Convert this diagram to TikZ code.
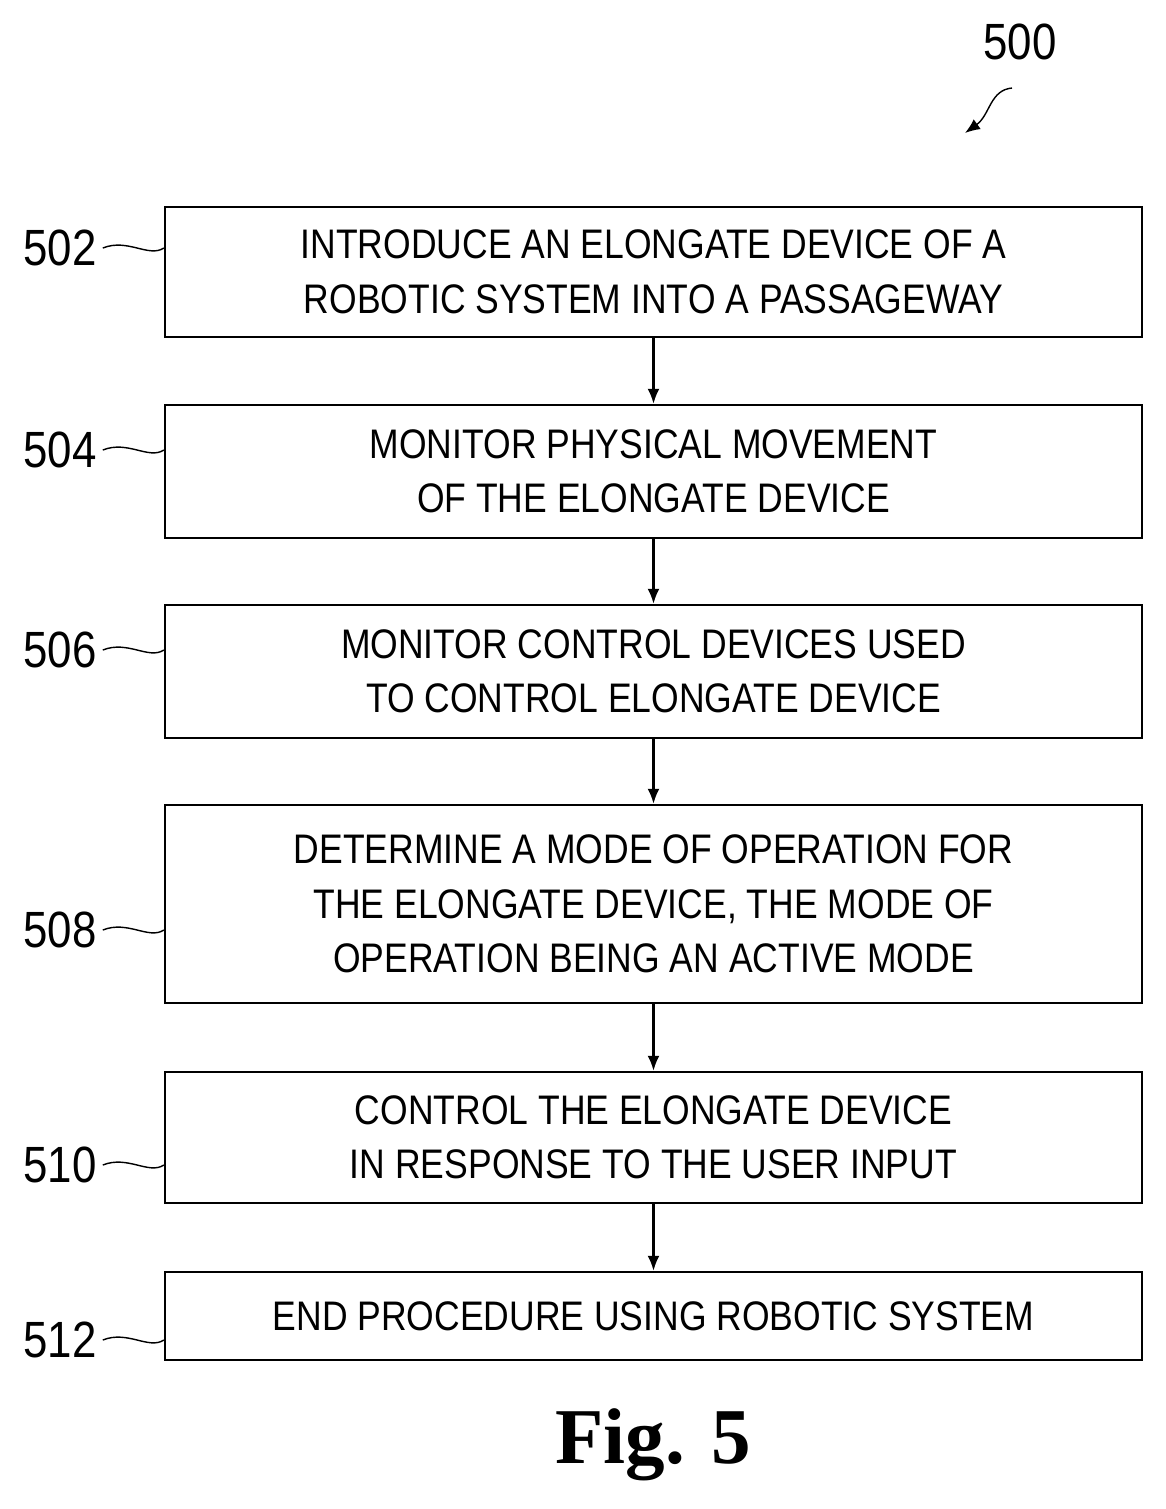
\documentclass[tikz,border=0pt]{standalone}
\usepackage{fontspec}
\setmainfont[FakeStretch=0.86]{Liberation Sans}
\newfontfamily\figfont{Liberation Serif}
\usetikzlibrary{arrows.meta}
\tikzset{%
  >={Latex[width=2.4mm,length=3mm]},
  % Specifications for style of nodes:
     stepbox/.style = {rectangle, draw=black, line width=1.4pt,
                       minimum width=19.54cm, text centered, align=center,
                       font=\fontsize{23.5}{31}\selectfont},
      refnum/.style = {font=\fontsize{29}{32}\selectfont},
    leader/.style = {line width=0.8pt}
}
\begin{document}
\begin{tikzpicture}[x=0.02cm, y=-0.02cm]
  \useasboundingbox (0,0) rectangle (1166,1509);
  % Specification of nodes (position, etc.)
  \node (s502) [stepbox, minimum height=2.6cm] at (653.5,272) {INTRODUCE AN ELONGATE DEVICE OF A\\ROBOTIC SYSTEM INTO A PASSAGEWAY};
  \node (s504) [stepbox, minimum height=2.66cm] at (653.5,471.5) {MONITOR PHYSICAL MOVEMENT\\OF THE ELONGATE DEVICE};
  \node (s506) [stepbox, minimum height=2.66cm] at (653.5,671.5) {MONITOR CONTROL DEVICES USED\\TO CONTROL ELONGATE DEVICE};
  \node (s508) [stepbox, minimum height=3.96cm] at (653.5,904) {DETERMINE A MODE OF OPERATION FOR\\THE ELONGATE DEVICE, THE MODE OF\\OPERATION BEING AN ACTIVE MODE};
  \node (s510) [stepbox, minimum height=2.62cm] at (653.5,1137.5) {CONTROL THE ELONGATE DEVICE\\IN RESPONSE TO THE USER INPUT};
  \node (s512) [stepbox, minimum height=1.76cm] at (653.5,1316) {END PROCEDURE USING ROBOTIC SYSTEM};

  \node (n502) [refnum] at (60,248)  {502};
  \node (n504) [refnum] at (60,450)  {504};
  \node (n506) [refnum] at (60,650)  {506};
  \node (n508) [refnum] at (60,930)  {508};
  \node (n510) [refnum] at (60,1165) {510};
  \node (n512) [refnum] at (60,1340) {512};
  \node (n500) [refnum] at (1020,42) {500};
  \node (fig)  [font=\figfont\bfseries\fontsize{45}{50}\selectfont] at (653,1445) {Fig. 5};

  \draw[->, line width=1.2pt] (s502) -- (s504);
  \draw[->, line width=1.2pt] (s504) -- (s506);
  \draw[->, line width=1.2pt] (s506) -- (s508);
  \draw[->, line width=1.2pt] (s508) -- (s510);
  \draw[->, line width=1.2pt] (s510) -- (s512);

  % leaders
  \foreach \n in {502, 504, 506, 508, 510, 512}
    \draw[leader] (n\n.east) .. controls +(25,-10) and +(-15,10) .. (s\n.west |- n\n.east);
  \coordinate (a500) at (965,133);
  \draw[leader, ->] (1012,88) .. controls (990,90) and (990,115) .. (a500);
\end{tikzpicture}
\end{document}
